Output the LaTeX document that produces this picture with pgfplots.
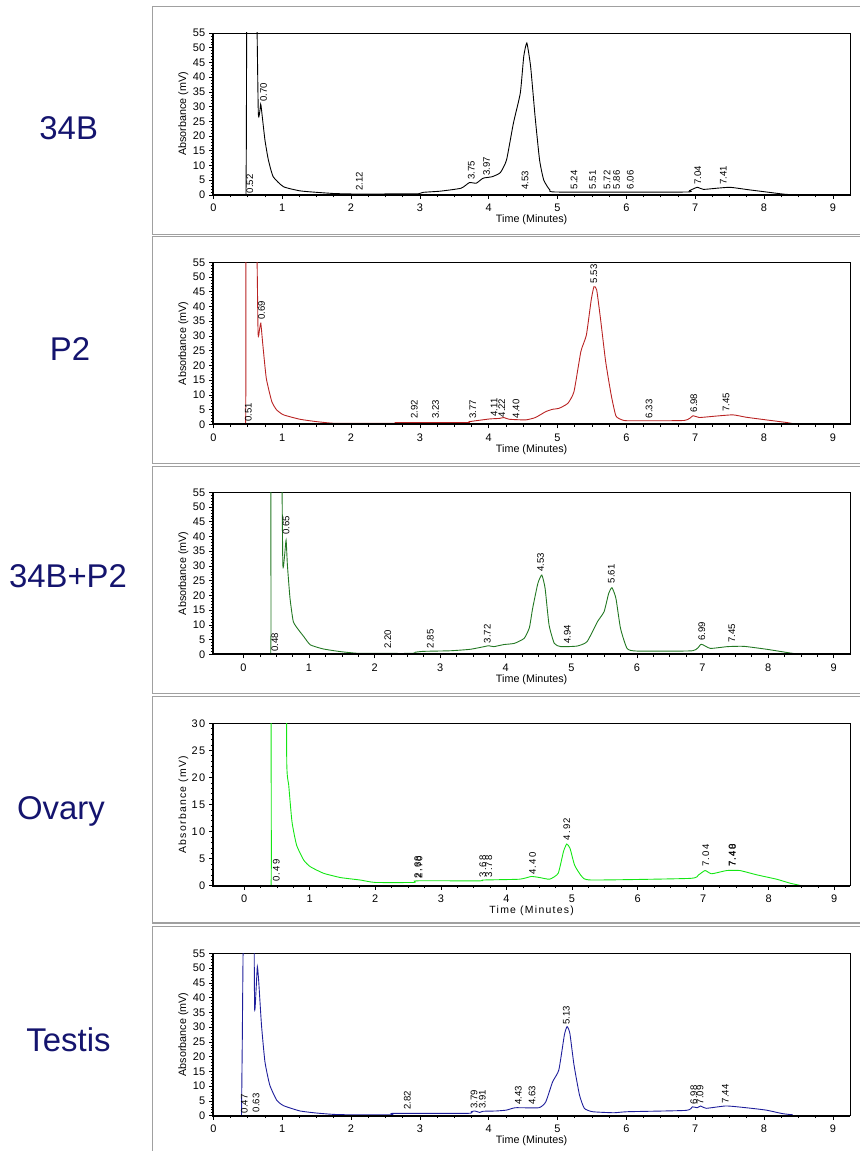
\documentclass[border=0pt]{standalone}
\usepackage{fontspec}
\setmainfont{Liberation Sans}
\newfontfamily\spaced[LetterSpace=12]{Liberation Sans}
\usepackage{pgfplots}
\pgfplotsset{compat=1.18}
\definecolor{navy}{RGB}{20,20,110}
\definecolor{cRed}{RGB}{185,35,35}
\definecolor{cGreen}{RGB}{35,120,35}
\definecolor{cLime}{RGB}{20,230,20}
\definecolor{cBlue}{RGB}{30,30,155}
\definecolor{frame}{RGB}{160,160,160}

\pgfplotsset{
  chrom/.style={
    scale only axis, width=636.7bp, height=162bp, anchor=south west,
    xmin=0, xmax=9.25, ymin=0, ymax=55,
    xtick={0,...,9}, ytick={0,5,...,55},
    minor x tick num=3, minor y tick num=4,
    tick pos=left, tick align=outside,
    major tick length=4bp, minor tick length=2.5bp,
    axis line style={line width=0.6bp},
    every tick/.style={black, line width=0.6bp},
    /pgf/number format/assume math mode=true,
    tick label style={font=\fontsize{11}{11}\selectfont},
    xticklabel style={inner sep=0pt, yshift=-5bp},
    yticklabel style={inner sep=0pt, xshift=-4bp},
    xlabel={Time (Minutes)}, ylabel={Absorbance (mV)},
    label style={font=\fontsize{10.8}{11}\selectfont},
    xlabel style={at={(axis description cs:0.5,-0.155)}, anchor=center},
    ylabel style={at={(axis description cs:-0.047,0.5)}, anchor=center},
    clip=true,
  },
  trace/.style={#1, line width=0.9bp, smooth, tension=0.3},
}
\tikzset{
  pk/.style={rotate=90, anchor=west, inner sep=0pt, font=\fontsize{9.6}{9.6}\selectfont},
  pko/.style={pk, font=\spaced\fontsize{9.6}{9.6}\selectfont},
}
\newcommand\pk[3]{\node[pk] at (axis cs:#1,#2) {#3};}
\newcommand\pko[3]{\node[pko] at (axis cs:#1,#2) {#3};}

\begin{document}
\begin{tikzpicture}[x=1bp,y=1bp]
\useasboundingbox (0,0) rectangle (860,1151);

% panel frames
\foreach \t/\b in {1144.3/916.7, 914.3/687.7, 684.3/457.7, 454.3/228, 224.3/-2}{
  \draw[frame, line width=1.2bp] (875,\b) -- (152.7,\b) -- (152.7,\t) -- (875,\t);
}

% side labels
\begin{scope}[every node/.style={text=navy, anchor=base, font=\fontsize{33}{33}\selectfont}]
\node at (68.7,1011) {34B};
\node at (70,790) {P2};
\node at (68,563.7) {34B+P2};
\node at (61,331) {Ovary};
\node at (68.5,99) {Testis};
\end{scope}

% ---- 34B
\begin{axis}[chrom, name=a1, at={(213.3bp,956bp)}]
\addplot[trace=black] coordinates {
(0.475,0) (0.48,18) (0.495,80) (0.615,80) (0.654,27.8) (0.688,30.8) (0.70,29)
(0.75,18.7) (0.80,11.9) (0.87,6.2) (1.02,2.8) (1.26,1.4) (1.5,0.9) (1.75,0.5)
(2.0,0.35) (2.5,0.35) (2.98,0.4) (3.05,0.9) (3.3,1.3) (3.6,2.3) (3.72,4.2)
(3.82,4.0) (3.92,5.7) (4.05,6.2) (4.17,7.6) (4.26,11.9) (4.36,24.4) (4.46,34.6)
(4.51,47) (4.555,51.6) (4.61,43.6) (4.675,26.6) (4.74,11.9) (4.80,5.1)
(4.89,1.7) (5.0,1.0) (6.85,1.0) (6.92,1.5) (7.03,2.6) (7.12,1.9) (7.32,2.3)
(7.51,2.6) (7.8,1.7) (8.04,1.0) (8.28,0.3) (8.42,0.05)
};
\pk{0.53}{0.6}{0.52} \pk{0.73}{31.7}{0.70} \pk{2.12}{1.5}{2.12}
\pk{3.75}{5.1}{3.75} \pk{3.97}{6.5}{3.97} \pk{4.53}{1.7}{4.53}
\pk{5.24}{1.9}{5.24} \pk{5.51}{1.9}{5.51} \pk{5.72}{1.9}{5.72}
\pk{5.86}{1.9}{5.86} \pk{6.06}{1.9}{6.06} \pk{7.04}{3.4}{7.04} \pk{7.41}{3.4}{7.41}
\end{axis}
\draw[line width=1.8bp] (a1.north west) -- (a1.south west) -- (a1.south east);

% ---- P2
\begin{axis}[chrom, name=a2, at={(213.3bp,726.7bp)}]
\addplot[trace=cRed] coordinates {
(0.47,0) (0.474,20) (0.48,80) (0.615,80) (0.65,31.5) (0.67,32) (0.69,34.3)
(0.72,26.9) (0.77,15.6) (0.85,7.7) (0.92,4.9) (1.02,3.2) (1.26,1.7) (1.5,0.9)
(1.74,0.35) (2.0,0.3) (2.64,0.3) (2.68,0.6) (3.68,0.6) (3.72,0.9) (4.01,1.8)
(4.16,2.0) (4.22,2.3) (4.30,1.7) (4.54,1.5) (4.68,2.3) (4.83,4.3) (4.93,5.1)
(5.02,5.4) (5.15,7.1) (5.24,11.1) (5.34,24.7) (5.42,30.3) (5.49,42.2)
(5.53,46.7) (5.57,45.6) (5.63,34.9) (5.70,21.3) (5.78,10) (5.85,2.8)
(5.95,1.4) (6.05,1.2) (6.84,1.3) (6.97,2.9) (7.06,2.3) (7.31,2.8) (7.55,3.2)
(7.74,2.4) (8.03,1.5) (8.33,0.6) (8.45,0.1)
};
\pk{0.51}{0.9}{0.51} \pk{0.70}{35.4}{0.69} \pk{2.92}{1.8}{2.92}
\pk{3.23}{1.8}{3.23} \pk{3.77}{1.8}{3.77} \pk{4.08}{2.6}{4.11}
\pk{4.19}{2.3}{4.22} \pk{4.40}{2.0}{4.40} \pk{5.53}{47.9}{5.53}
\pk{6.33}{2.0}{6.33} \pk{6.98}{4.0}{6.98} \pk{7.45}{4.3}{7.45}
\end{axis}
\draw[line width=1.8bp] (a2.north west) -- (a2.south west) -- (a2.south east);

% ---- 34B+P2
\begin{axis}[chrom, name=a3, at={(213.3bp,496.7bp)}, xmin=-0.46]
\addplot[trace=cGreen] coordinates {
(0.415,0) (0.42,10) (0.425,80) (0.57,80) (0.60,30.9) (0.625,33) (0.65,38.8)
(0.67,30.3) (0.71,19.0) (0.76,11.1) (0.84,8.3) (0.92,6.0) (1.02,3.2)
(1.22,1.8) (1.48,0.9) (1.73,0.35) (2.0,0.3) (2.58,0.3) (2.62,0.7) (2.75,1.0)
(3.16,1.2) (3.46,1.7) (3.67,2.6) (3.74,2.9) (3.82,2.6) (3.97,3.3) (4.13,3.7)
(4.28,5.4) (4.36,9) (4.41,15.6) (4.49,24.1) (4.55,26.9) (4.60,22.4) (4.66,10)
(4.74,3.7) (4.84,2.6) (5.09,2.8) (5.24,4.3) (5.40,11.1) (5.50,14.5)
(5.57,20.7) (5.62,22.6) (5.68,19) (5.75,8.8) (5.85,2.0) (6.0,1.1) (6.85,1.2)
(6.98,3.4) (7.12,2.0) (7.38,2.6) (7.63,2.7) (7.98,1.7) (8.29,0.6) (8.44,0.1)
};
\pk{0.48}{0.9}{0.48} \pk{0.65}{40.5}{0.65} \pk{2.20}{1.8}{2.20}
\pk{2.85}{2.0}{2.85} \pk{3.72}{3.7}{3.72} \pk{4.53}{28.1}{4.53}
\pk{4.94}{3.6}{4.94} \pk{5.61}{24.1}{5.61} \pk{6.99}{4.5}{6.99} \pk{7.45}{3.8}{7.45}
\end{axis}
\draw[line width=1.8bp] (a3.north west) -- (a3.south west) -- (a3.south east);

% ---- Ovary
\begin{axis}[chrom, name=a4, at={(213.3bp,265.3bp)}, height=162.4bp, xmin=-0.47, xmax=9.24,
  ymax=30, ytick={0,5,...,30},
  tick label style={font=\spaced\fontsize{11}{11}\selectfont},
  label style={font=\spaced\fontsize{10.5}{11}\selectfont}]
\addplot[trace=cLime] coordinates {
(0.41,0) (0.415,5) (0.42,60) (0.63,60) (0.65,22.9) (0.68,18.6) (0.73,11.8)
(0.80,7.5) (0.91,4.7) (1.01,3.5) (1.21,2.3) (1.47,1.5) (1.77,1.05) (2.0,0.6)
(2.59,0.6) (2.63,0.9) (3.6,0.9) (3.65,1.05) (4.2,1.2) (4.38,1.7) (4.51,1.5)
(4.66,1.2) (4.79,2.3) (4.87,6.3) (4.92,7.7) (4.97,6.9) (5.04,3.8) (5.15,1.7)
(5.30,1.05) (6.80,1.35) (6.93,2.0) (7.03,2.8) (7.13,2.2) (7.36,2.8)
(7.56,2.8) (7.82,2.0) (8.12,1.2) (8.33,0.45) (8.50,0)
};
\pko{0.49}{0.7}{0.49} \pko{2.65}{1.35}{2.68} \pko{2.67}{1.35}{2.70}
\pko{3.64}{1.5}{3.68} \pko{3.73}{1.5}{3.78} \pko{4.40}{2.0}{4.40}
\pko{4.92}{8.4}{4.92} \pko{7.04}{3.5}{7.04} \pko{7.44}{3.5}{7.40} \pko{7.45}{3.5}{7.48}
\end{axis}
\draw[line width=1.8bp] (a4.north west) -- (a4.south west) -- (a4.south east);

% ---- Testis
\begin{axis}[chrom, name=a5, at={(213.3bp,35.3bp)}, height=162.4bp]
\addplot[trace=cBlue] coordinates {
(0.41,0) (0.42,22.8) (0.45,80) (0.58,80) (0.60,36.4) (0.62,42) (0.64,50.5)
(0.66,45.4) (0.70,30.7) (0.75,18.3) (0.82,10.4) (0.92,5.3) (1.02,3.4)
(1.26,1.6) (1.5,0.9) (1.74,0.45) (2.0,0.3) (2.59,0.3) (2.62,0.8) (3.70,0.8)
(3.75,1.35) (3.80,1.6) (3.87,1.1) (3.92,1.5) (4.11,1.6) (4.26,1.9) (4.39,2.7)
(4.73,2.7) (4.83,4.7) (4.93,11.5) (5.02,15.5) (5.10,27.3) (5.14,30.2)
(5.18,27.9) (5.24,17.2) (5.32,7.0) (5.39,2.5) (5.51,1.35) (5.82,1.0)
(6.02,1.35) (6.87,1.8) (6.96,3.0) (7.03,2.7) (7.08,3.3) (7.16,2.5) (7.45,3.3)
(7.74,2.7) (8.03,1.9) (8.27,0.7) (8.42,0.3)
};
\pk{0.45}{0.8}{0.47} \pk{0.62}{1.1}{0.63} \pk{2.82}{1.9}{2.82}
\pk{3.79}{2.3}{3.79} \pk{3.91}{2.3}{3.91} \pk{4.43}{3.6}{4.43}
\pk{4.63}{3.6}{4.63} \pk{5.13}{30.7}{5.13} \pk{6.98}{3.8}{6.98}
\pk{7.07}{3.8}{7.09} \pk{7.44}{4.2}{7.44}
\end{axis}
\draw[line width=1.8bp] (a5.north west) -- (a5.south west) -- (a5.south east);
\end{tikzpicture}
\end{document}
